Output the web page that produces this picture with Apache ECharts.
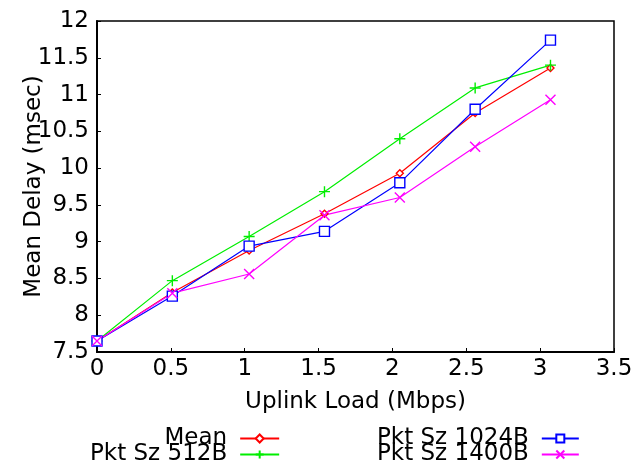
<!DOCTYPE html>
<html><head><meta charset="utf-8">
<script src="https://cdn.jsdelivr.net/npm/echarts@6/dist/echarts.min.js"></script>
<style>html,body{margin:0;padding:0;background:#fff}#c{width:644px;height:466px}</style>
</head><body><div id="c"></div>
<script>
const loads = [0, 0.51, 1.03, 1.54, 2.05, 2.56, 3.07];
const meanDelay = [7.65, 8.31, 8.88, 9.38, 9.93, 10.75, 11.36];
const pkt512 = [7.65, 8.47, 9.07, 9.68, 10.40, 11.09, 11.40];
const pkt1024 = [7.65, 8.26, 8.94, 9.14, 9.80, 10.80, 11.74];
const pkt1400 = [7.65, 8.30, 8.56, 9.36, 9.60, 10.29, 10.93];
const xTicks = [0, 0.5, 1, 1.5, 2, 2.5, 3, 3.5];
const yTicks = [7.5, 8, 8.5, 9, 9.5, 10, 10.5, 11, 11.5, 12];

const font = 'DejaVu Sans, Verdana, sans-serif';
function pts(ys){ return loads.map((x,i)=>[x, ys[i]]); }
function ser(name, ys, color, symbol, size, fill){
  return {name, type:'line', data:pts(ys), symbol, symbolSize:size,
    lineStyle:{color, width:1.2}, itemStyle:{color:fill||color, borderColor:color, borderWidth:1.4},
    showAllSymbol:true};
}
const crossPlus = 'path://M5 0 L5 10 M0 5 L10 5';
const crossX = 'path://M0 0 L10 10 M10 0 L0 10';
const legendText = {fontFamily:font, fontSize:23, color:'#000', padding:[0,8,0,0]};
const chart = echarts.init(document.getElementById('c'));
chart.setOption({
  animation:false,
  grid:{left:97, right:30, top:21, bottom:114, show:true, borderColor:'#000', borderWidth:1.5},
  xAxis:{type:'value', min:0, max:3.5, interval:0.5,
    name:'Uplink Load (Mbps)', nameLocation:'middle', nameGap:39, nameMoveOverlap:false,
    nameTextStyle:{fontFamily:font, fontSize:23, color:'#000'},
    axisLine:{lineStyle:{color:'#000', width:2}},
    axisTick:{inside:true, length:4, lineStyle:{color:'#000'}},
    axisLabel:{fontFamily:font, fontSize:23, color:'#000', margin:6,
      formatter:v=>xTicks.includes(v)?String(v):''},
    splitLine:{show:false}},
  yAxis:{type:'value', min:7.5, max:12, interval:0.5,
    name:'Mean Delay (msec)', nameLocation:'middle', nameGap:51, nameMoveOverlap:false,
    nameTextStyle:{fontFamily:font, fontSize:23, color:'#000'},
    axisLine:{lineStyle:{color:'#000', width:2}},
    axisTick:{inside:true, length:4, lineStyle:{color:'#000'}},
    axisLabel:{fontFamily:font, fontSize:23, color:'#000', margin:8,
      formatter:v=>yTicks.includes(v)?String(v):''},
    splitLine:{show:false}},
  legend:[
    {data:['Mean','Pkt Sz 512B'], orient:'vertical', align:'right', left:90, top:427, height:100, padding:0,
     itemWidth:39, itemHeight:10, itemGap:-7, textStyle:legendText},
    {data:['Pkt Sz 1024B','Pkt Sz 1400B'], orient:'vertical', align:'right', left:377, top:427, height:100, padding:0,
     itemWidth:37, itemHeight:10, itemGap:-7, textStyle:legendText}
  ],
  series:[
    ser('Mean', meanDelay, '#ff0000', 'diamond', 7, '#fff'),
    ser('Pkt Sz 512B', pkt512, '#00ee00', crossPlus, 11),
    ser('Pkt Sz 1024B', pkt1024, '#0000ff', 'rect', 10, '#fff'),
    ser('Pkt Sz 1400B', pkt1400, '#ff00ff', crossX, 10)
  ]
});
</script></body></html>
